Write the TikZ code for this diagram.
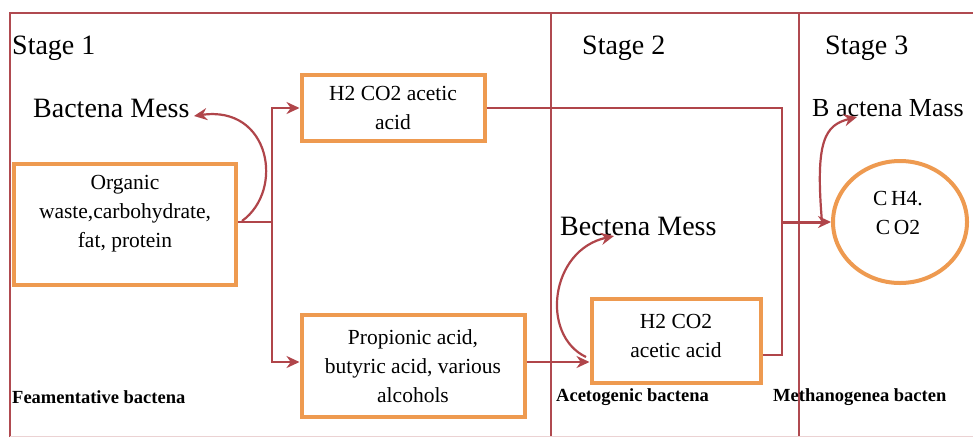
\documentclass[tikz,border=0pt]{standalone}
\usepackage{fontspec}
\setmainfont{Liberation Serif}
\usetikzlibrary{arrows.meta,shapes.geometric,calc}
\definecolor{framec}{HTML}{B04A50}
\definecolor{conn}{HTML}{B0454A}
\definecolor{boxor}{HTML}{EE9A50}
\begin{document}
\begin{tikzpicture}[x=1pt,y=-1pt,
  framel/.style={draw=framec,line width=2.5pt},
  pbox/.style={draw=boxor,line width=4pt,fill=white,inner sep=0pt},
  btext/.style={align=center,font=\fontsize{21.5}{29}\selectfont,inner sep=0pt},
  big/.style={font=\fontsize{28}{32}\selectfont,inner sep=0pt,anchor=west},
  small/.style={font=\bfseries\fontsize{18.5}{20}\selectfont,inner sep=0pt,anchor=west},
  line/.style={draw=conn,line width=2.2pt},
  arr/.style={line,-{Stealth[length=13pt,width=12pt]}},
]
\useasboundingbox (0,0) rectangle (973,437);
\fill[white] (0,0) rectangle (973,437);
% frame
\draw[framel] (10,437) -- (10,13) -- (973,13);
\draw[framel] (551,13) -- (551,437);
\draw[framel] (799,13) -- (799,437);
\draw[draw=framec!25,line width=1pt] (10,436) -- (973,436);

% labels
\node[big] (s1) at (12,48) {Stage 1};
\node[big] (s2) at (582,48) {Stage 2};
\node[big] (s3) at (825,48) {Stage 3};
\node[big] (bm1) at (33,108) {Bactena Mess};
\node[big,font=\fontsize{26}{30}\selectfont] (bm3) at (812,108) {B actena Mass};
\node[big] (bm2) at (560,226) {Bectena Mess};
\node[small] (f1) at (12,397) {Feamentative bactena};
\node[small] (f2) at (556,397) {Acetogenic bactena};
\node[small] (f3) at (773,397) {Methanogenea bacten};

% boxes
\node[pbox,minimum width=222pt,minimum height=121pt] (org) at (125,224) {};
\node[btext] (orgt) at (125,214) {Organic\\waste,carbohydrate,\\fat, protein};
\node[pbox,minimum width=183pt,minimum height=66pt,btext] (h2a) at (393,108) {H2 CO2 acetic\\acid};
\node[pbox,minimum width=223pt,minimum height=102pt,btext] (prop) at (413,366) {Propionic acid,\\butyric acid, various\\alcohols};
\node[pbox,minimum width=169pt,minimum height=84pt] (h2b) at (676,341) {};
\node[btext] (h2bt) at (676,336) {H2 CO2\\acetic acid};
\node[ellipse,draw=boxor,line width=4pt,fill=white,minimum width=134pt,minimum height=122pt,inner sep=0pt] (ell) at (900,222) {};
\node[btext] (ellt) at (898,213) {C\,H4.\\C\,O2};

% connectors
\coordinate (j1) at (272,222);
\draw[line] (org.east |- j1) -- (j1);
\draw[arr] (j1) |- (h2a.west);
\draw[arr] (j1) |- (prop.west |- 0,362);
\draw[arr] (prop.east |- 0,362) -- (h2b.west |- 0,362);

\coordinate (j2) at (782,222);
\draw[line] (h2a.east) -| (j2);
\draw[line] (h2b.east |- 0,355) -| (j2);
\draw[arr,line width=3pt] (j2) -- (ell.west);

\coordinate (c1) at (242,221);
\draw[arr] (c1) .. controls (285,190) and (270,105) .. (194,116);
\coordinate (c2) at (586,357);
\draw[arr] (c2) .. controls (540,335) and (550,250) .. (614,236);
\coordinate (c3) at (822,222);
\draw[arr] (c3) .. controls (815,140) and (825,125) .. (857,117);
\end{tikzpicture}
\end{document}
